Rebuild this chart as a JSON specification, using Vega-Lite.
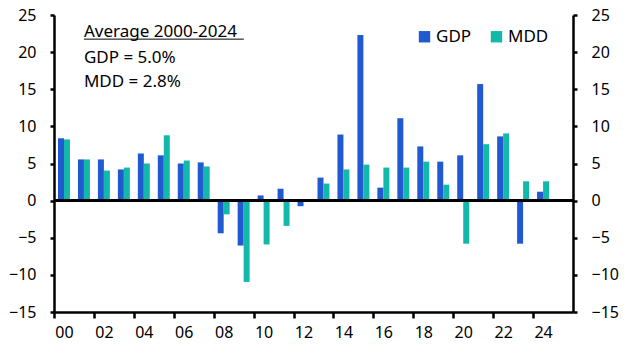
{
  "$schema": "https://vega.github.io/schema/vega-lite/v6.json",
  "width": 519,
  "height": 297,
  "autosize": {"type": "none"},
  "padding": {"left": 54, "top": 15, "right": 59, "bottom": 51},
  "background": "white",
  "config": {
    "font": "Noto Sans",
    "view": {"stroke": null},
    "axis": {
      "domainColor": "black", "domainWidth": 2.5, "tickColor": "black", "tickWidth": 2.5,
      "labelColor": "black", "labelFontSize": 16, "labelFont": "Noto Sans", "grid": false, "title": null
    }
  },
  "data": {"values": [
    {"year": 2000, "series": "GDP", "value": 8.4}, {"year": 2000, "series": "MDD", "value": 8.25},
    {"year": 2001, "series": "GDP", "value": 5.55}, {"year": 2001, "series": "MDD", "value": 5.55},
    {"year": 2002, "series": "GDP", "value": 5.55}, {"year": 2002, "series": "MDD", "value": 4.05},
    {"year": 2003, "series": "GDP", "value": 4.2}, {"year": 2003, "series": "MDD", "value": 4.45},
    {"year": 2004, "series": "GDP", "value": 6.35}, {"year": 2004, "series": "MDD", "value": 5.0},
    {"year": 2005, "series": "GDP", "value": 6.1}, {"year": 2005, "series": "MDD", "value": 8.8},
    {"year": 2006, "series": "GDP", "value": 5.0}, {"year": 2006, "series": "MDD", "value": 5.4},
    {"year": 2007, "series": "GDP", "value": 5.15}, {"year": 2007, "series": "MDD", "value": 4.6},
    {"year": 2008, "series": "GDP", "value": -4.4}, {"year": 2008, "series": "MDD", "value": -1.85},
    {"year": 2009, "series": "GDP", "value": -6.05}, {"year": 2009, "series": "MDD", "value": -10.95},
    {"year": 2010, "series": "GDP", "value": 0.7}, {"year": 2010, "series": "MDD", "value": -5.9},
    {"year": 2011, "series": "GDP", "value": 1.6}, {"year": 2011, "series": "MDD", "value": -3.4},
    {"year": 2012, "series": "GDP", "value": -0.75}, {"year": 2012, "series": "MDD", "value": 0.0},
    {"year": 2013, "series": "GDP", "value": 3.1}, {"year": 2013, "series": "MDD", "value": 2.3},
    {"year": 2014, "series": "GDP", "value": 8.9}, {"year": 2014, "series": "MDD", "value": 4.2},
    {"year": 2015, "series": "GDP", "value": 22.3}, {"year": 2015, "series": "MDD", "value": 4.85},
    {"year": 2016, "series": "GDP", "value": 1.75}, {"year": 2016, "series": "MDD", "value": 4.45},
    {"year": 2017, "series": "GDP", "value": 11.1}, {"year": 2017, "series": "MDD", "value": 4.45},
    {"year": 2018, "series": "GDP", "value": 7.3}, {"year": 2018, "series": "MDD", "value": 5.25},
    {"year": 2019, "series": "GDP", "value": 5.25}, {"year": 2019, "series": "MDD", "value": 2.15},
    {"year": 2020, "series": "GDP", "value": 6.1}, {"year": 2020, "series": "MDD", "value": -5.8},
    {"year": 2021, "series": "GDP", "value": 15.7}, {"year": 2021, "series": "MDD", "value": 7.6},
    {"year": 2022, "series": "GDP", "value": 8.65}, {"year": 2022, "series": "MDD", "value": 9.05},
    {"year": 2023, "series": "GDP", "value": -5.8}, {"year": 2023, "series": "MDD", "value": 2.6},
    {"year": 2024, "series": "GDP", "value": 1.2}, {"year": 2024, "series": "MDD", "value": 2.6}
  ]},
  "layer": [
    {
      "mark": {"type": "bar"},
      "encoding": {
        "x": {
          "field": "year", "type": "ordinal",
          "scale": {"domain": [2000,2001,2002,2003,2004,2005,2006,2007,2008,2009,2010,2011,2012,2013,2014,2015,2016,2017,2018,2019,2020,2021,2022,2023,2024,2025], "paddingInner": 0.4, "paddingOuter": 0.2},
          "axis": {
            "values": [2000,2002,2004,2006,2008,2010,2012,2014,2016,2018,2020,2022,2024],
            "labelExpr": "slice(datum.label, 2)", "labelAngle": 0,
            "tickSize": 6, "tickOffset": -10, "labelOffset": 10, "labelPadding": 6,
            "domainWidth": 2.5
          }
        },
        "xOffset": {"field": "series", "type": "nominal", "scale": {"paddingInner": 0, "paddingOuter": 0}},
        "y": {
          "field": "value", "type": "quantitative",
          "scale": {"domain": [-15, 25], "nice": false, "zero": false},
          "axis": {"orient": "left", "values": [-15,-10,-5,0,5,10,15,20,25], "tickSize": 4, "labelPadding": 14}
        },
        "color": {
          "field": "series", "type": "nominal",
          "scale": {"domain": ["GDP", "MDD"], "range": ["#2159D0", "#12B8AA"]},
          "legend": {
            "title": null, "orient": "none", "legendX": 362, "legendY": 13, "direction": "horizontal",
            "symbolType": "square", "symbolSize": 130, "symbolStrokeWidth": 0, "labelFontSize": 17, "labelColor": "black",
            "columnPadding": 16, "labelOffset": 3, "padding": 0
          }
        }
      }
    },
    {
      "mark": {"type": "rule", "color": "black", "strokeWidth": 2.5},
      "encoding": {
        "y": {
          "datum": 0, "type": "quantitative",
          "axis": {"orient": "right", "values": [-15,-10,-5,0,5,10,15,20,25], "tickSize": 4, "labelPadding": 14}
        }
      }
    },
    {
      "data": {"values": [
        {"label": "Average 2000-2024", "pos": 22.0},
        {"label": "GDP = 5.0%", "pos": 18.6},
        {"label": "MDD = 2.8%", "pos": 15.25}
      ]},
      "mark": {"type": "text", "align": "left", "baseline": "alphabetic", "fontSize": 17, "color": "black"},
      "encoding": {
        "x": {"datum": 2001, "type": "ordinal", "bandPosition": 0.5},
        "y": {"field": "pos", "type": "quantitative", "axis": null},
        "text": {"field": "label"}
      }
    },
    {
      "data": {"values": [{"pos": 21.75}]},
      "mark": {"type": "rule", "color": "black", "strokeWidth": 1},
      "encoding": {
        "x": {"datum": 2001, "type": "ordinal", "bandPosition": 0.5},
        "x2": {"datum": 2009, "bandPosition": 0.52},
        "y": {"field": "pos", "type": "quantitative", "axis": null}
      }
    }
  ],
  "resolve": {"axis": {"y": "independent"}}
}
